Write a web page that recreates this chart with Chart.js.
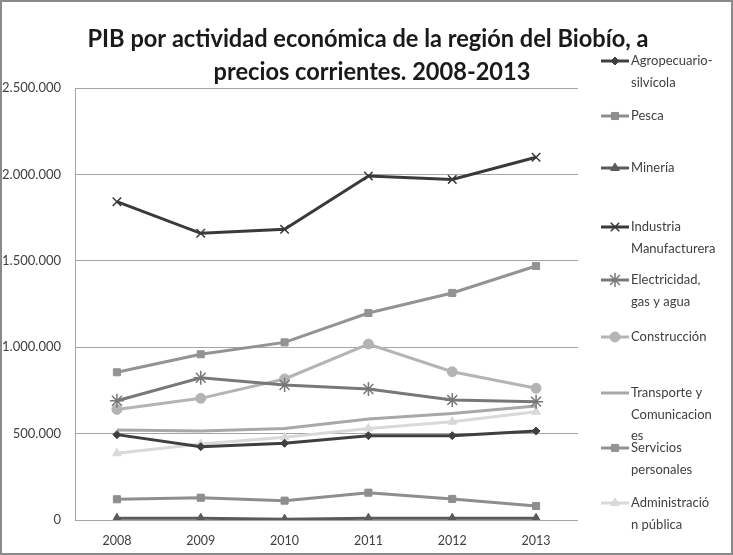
<!DOCTYPE html>
<html>
<head>
<meta charset="utf-8">
<script src="https://cdn.jsdelivr.net/npm/chart.js@4.4.1/dist/chart.umd.min.js"></script>
<style>
  body { margin: 0; background: #fff; }
  #wrap { width: 733px; height: 555px; }
</style>
</head>
<body>
<div id="wrap"><canvas id="myChart" width="733" height="555"></canvas></div>
<script>
// years on the x axis
const years = ['2008', '2009', '2010', '2011', '2012', '2013'];

// series values (thousands of pesos)
const agropecuario = [494000, 424000, 444000, 488000, 488000, 515000];
const pesca = [120000, 129000, 112000, 158000, 122000, 81000];
const mineria = [10000, 10000, 5000, 10000, 10000, 10000];
const industria = [1842000, 1659000, 1682000, 1991000, 1971000, 2099000];
const electricidad = [690000, 823000, 781000, 758000, 694000, 685000];
const construccion = [640000, 704000, 816000, 1018000, 858000, 762000];
const transporte = [521000, 515000, 530000, 584000, 617000, 660000];
const servicios = [855000, 959000, 1028000, 1198000, 1314000, 1470000];
const administracion = [386000, 440000, 479000, 530000, 569000, 627000];

// legend names, wrapped the way the picture shows them
const legendNames = [
  ['Agropecuario-', 'silvícola'],
  ['Pesca'],
  ['Minería'],
  ['Industria', 'Manufacturera'],
  ['Electricidad,', 'gas y agua'],
  ['Construcción'],
  ['Transporte y', 'Comunicacion', 'es'],
  ['Servicios', 'personales'],
  ['Administració', 'n pública']
];

const yTicks = [0, 500000, 1000000, 1500000, 2000000, 2500000];
const titleLines = ['PIB por actividad económica de la región del Biobío, a', 'precios corrientes. 2008-2013'];

const FONT = 'Lato, "Open Sans", sans-serif';

function series(label, data, color, style, radius) {
  return {
    label: label,
    data: data,
    borderColor: color,
    backgroundColor: color,
    pointBackgroundColor: color,
    pointBorderColor: color,
    borderWidth: 3,
    pointStyle: style,
    pointRadius: radius,
    pointBorderWidth: style === 'crossRot' || style === 'star' ? 1.5 : 1,
    tension: 0
  };
}

const datasets = [
  series('Agropecuario-silvícola', agropecuario, '#3f3f3f', 'rectRot', 4),
  series('Pesca', pesca, '#8e8e8e', 'rect', 5),
  series('Minería', mineria, '#5a5a5a', 'triangle', 5),
  series('Industria Manufacturera', industria, '#3a3a3a', 'crossRot', 6),
  series('Electricidad, gas y agua', electricidad, '#787878', 'star', 7),
  series('Construcción', construccion, '#b4b4b4', 'circle', 5),
  series('Transporte y Comunicaciones', transporte, '#a8a8a8', 'circle', 0),
  series('Servicios personales', servicios, '#939393', 'rect', 5),
  series('Administración pública', administracion, '#d9d9d9', 'triangle', 5)
];

// title, legend on the right and outer frame
const decorPlugin = {
  id: 'decor',
  afterDraw(chart) {
    const ctx = chart.ctx;
    ctx.save();
    // frame
    ctx.strokeStyle = '#8a8a8a';
    ctx.lineWidth = 2;
    ctx.strokeRect(1, 1, 731, 553);

    // title: tall narrow letters like the original, squeezed to its width
    ctx.fillStyle = '#1a1a1a';
    ctx.textAlign = 'center';
    ctx.textBaseline = 'alphabetic';
    ctx.font = 'bold 24px ' + FONT;
    const sx = 561 / ctx.measureText(titleLines[0]).width;
    ctx.save();
    ctx.scale(sx, 1);
    ctx.fillText(titleLines[0], 368 / sx, 47);
    ctx.fillText(titleLines[1], 372 / sx, 80);
    ctx.restore();

    // legend
    const tops = [61, 116, 168, 227, 280, 337, 393, 448, 503];
    ctx.font = '13px ' + FONT;
    ctx.textAlign = 'left';
    ctx.textBaseline = 'middle';
    chart.data.datasets.forEach((ds, i) => {
      const y = tops[i];
      ctx.strokeStyle = ds.borderColor;
      ctx.fillStyle = ds.borderColor;
      ctx.lineWidth = 3;
      ctx.beginPath();
      ctx.moveTo(601, y);
      ctx.lineTo(629, y);
      ctx.stroke();
      if (ds.pointRadius > 0) {
        ctx.lineWidth = ds.pointBorderWidth;
        Chart.helpers.drawPoint(ctx, {
          pointStyle: ds.pointStyle,
          rotation: 0,
          radius: ds.pointRadius,
          borderWidth: ds.pointBorderWidth
        }, 615, y);
      }
      ctx.fillStyle = '#404040';
      legendNames[i].forEach((line, j) => {
        ctx.fillText(line, 631, y + j * 21.5);
      });
    });
    ctx.restore();
  }
};

new Chart(document.getElementById('myChart').getContext('2d'), {
  type: 'line',
  data: { labels: years, datasets: datasets },
  options: {
    responsive: false,
    animation: false,
    layout: { padding: { top: 88, right: 155, bottom: 0, left: 0 } },
    plugins: {
      legend: { display: false },
      title: { display: false },
      tooltip: { enabled: false }
    },
    scales: {
      x: {
        offset: true,
        grid: { display: false, drawTicks: false },
        border: { display: false },
        ticks: { color: '#404040', font: { family: FONT, size: 12.5 }, padding: 13 },
        afterFit(s) { s.height = 35; }
      },
      y: {
        min: 0,
        max: 2500000,
        afterBuildTicks(s) { s.ticks = yTicks.map(v => ({ value: v })); },
        grid: { color: '#a6a6a6', lineWidth: 1, drawTicks: false },
        border: { display: true, color: '#a6a6a6', width: 1 },
        ticks: {
          color: '#404040',
          font: { family: FONT, size: 13 },
          padding: 14,
          callback: v => v.toString().replace(/\B(?=(\d{3})+(?!\d))/g, '.')
        },
        afterFit(s) { s.width = 75; }
      }
    }
  },
  plugins: [decorPlugin]
});
</script>
</body>
</html>
